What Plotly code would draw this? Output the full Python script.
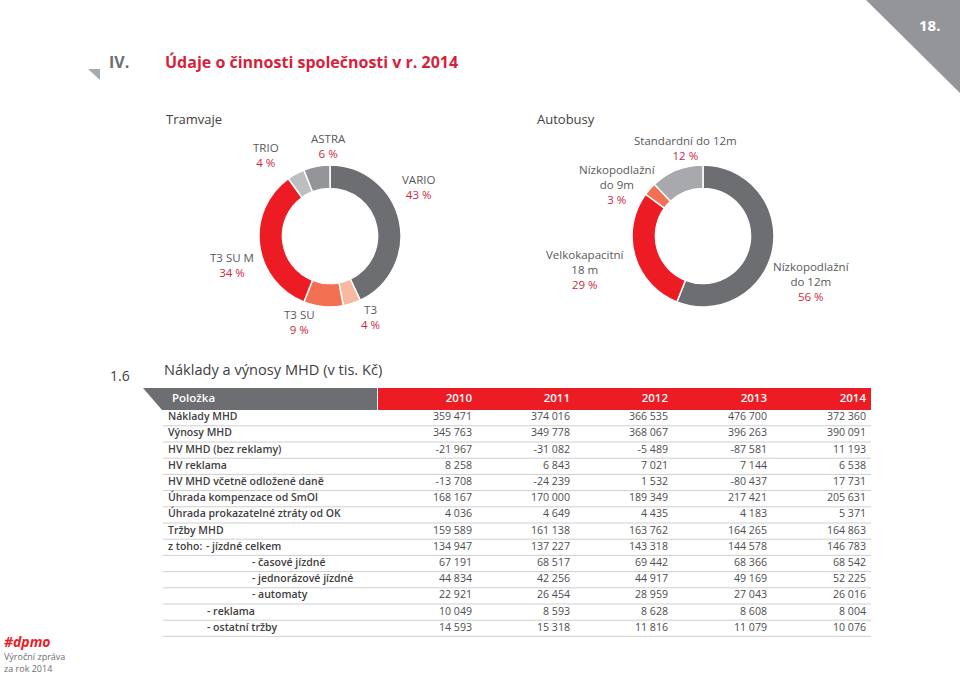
import plotly.graph_objects as go

# ---------------- DATA ----------------
tram_labels = ["VARIO", "T3", "T3 SU", "T3 SU M", "TRIO", "ASTRA"]
tram_values = [43, 4, 9, 34, 4, 6]
tram_colors = ["#6d6e71", "#f9b8a0", "#f37053", "#ed1c24", "#bcbec0", "#939598"]

bus_labels = ["Nízkopodlažní<br>do 12m", "Velkokapacitní<br>18 m", "Nízkopodlažní<br>do 9m", "Standardní do 12m"]
bus_values = [56, 29, 3, 12]
bus_colors = ["#6d6e71", "#ed1c24", "#f37053", "#a7a9ac"]

years = ["2010", "2011", "2012", "2013", "2014"]
row_labels = ["Náklady MHD", "Výnosy MHD", "HV MHD (bez reklamy)", "HV reklama",
              "HV MHD včetně odložené daně", "Úhrada kompenzace od SmOl",
              "Úhrada prokazatelné ztráty od OK", "Tržby MHD", "z toho:",
              "- časové jízdné", "- jednorázové jízdné", "- automaty",
              "- reklama", "- ostatní tržby"]
row_level = [0, 0, 0, 0, 0, 0, 0, 0, 0, 2, 2, 2, 1, 1]
extra_label = "- jízdné celkem"   # second label on the "z toho:" row
values = {
    "2010": [359471, 345763, -21967, 8258, -13708, 168167, 4036, 159589, 134947, 67191, 44834, 22921, 10049, 14593],
    "2011": [374016, 349778, -31082, 6843, -24239, 170000, 4649, 161138, 137227, 68517, 42256, 26454, 8593, 15318],
    "2012": [366535, 368067, -5489, 7021, 1532, 189349, 4435, 163762, 143318, 69442, 44917, 28959, 8628, 11816],
    "2013": [476700, 396263, -87581, 7144, -80437, 217421, 4183, 164265, 144578, 68366, 49169, 27043, 8608, 11079],
    "2014": [372360, 390091, 11193, 6538, 17731, 205631, 5371, 164863, 146783, 68542, 52225, 26016, 8004, 10076],
}

# ---------------- LAYOUT HELPERS ----------------
W, H = 960, 691
FONT = "Open Sans"
DARK = "#414042"
LABEL_GREY = "#58595b"
PCT_RED = "#d0283e"
TITLE_RED = "#d71f3c"


def fmt(v):
    return f"{v:,}".replace(",", " ")


def pdom(x0, x1, y0, y1):
    return dict(x=[x0 / W, x1 / W], y=[1 - y1 / H, 1 - y0 / H])


fig = go.Figure()

# donuts
fig.add_trace(go.Pie(labels=tram_labels, values=tram_values, sort=False, direction="clockwise",
                     rotation=0, hole=0.67, marker=dict(colors=tram_colors, line=dict(color="white", width=1.5)),
                     textinfo="none", hoverinfo="skip", showlegend=False,
                     domain=pdom(259, 401, 165, 307)))
fig.add_trace(go.Pie(labels=bus_labels, values=bus_values, sort=False, direction="clockwise",
                     rotation=0, hole=0.67, marker=dict(colors=bus_colors, line=dict(color="white", width=1.5)),
                     textinfo="none", hoverinfo="skip", showlegend=False,
                     domain=pdom(632, 774, 165, 307)))

annotations = []


def ann(x, y, text, size, color, xanchor="left", weight=None, align=None):
    f = dict(family=FONT, size=size, color=color)
    if weight:
        f["weight"] = weight
    a = dict(x=x, y=y, xref="x", yref="y", text=text, showarrow=False,
             xanchor=xanchor, yanchor="middle", font=f)
    if align:
        a["align"] = align
    annotations.append(a)


def slice_label(x, y_first, lab, val, nlines):
    txt = f"{lab}<br><span style='color:{PCT_RED}'>{val} %</span>"
    step = 12.7
    ymid = y_first + step * nlines / 2
    ann(x, ymid, txt, 11.5, LABEL_GREY, "center")


# donut labels (positions per slice)
tram_pos = {"VARIO": (418, 181), "T3": (370, 311), "T3 SU": (299, 316),
            "T3 SU M": (232, 259), "TRIO": (266, 149), "ASTRA": (328, 140)}
for lab, val in zip(tram_labels, tram_values):
    x, y = tram_pos[lab]
    slice_label(x, y, lab, val, 1)

bus_pos = {bus_labels[0]: (811, 269), bus_labels[1]: (585, 257),
           bus_labels[2]: (617, 172), bus_labels[3]: (685, 142)}
for lab, val in zip(bus_labels, bus_values):
    x, y = bus_pos[lab]
    slice_label(x, y, lab, val, lab.count("<br>") + 1)

# headings
ann(107, 62, "<b>IV.</b>", 16, "#6d6e71")
ann(163, 62, "<b>Údaje o činnosti společnosti v r. 2014</b>", 16, TITLE_RED)
ann(942, 25, "<b>18.</b>", 15, "white", "right")
ann(164, 119, "Tramvaje", 13, DARK)
ann(535, 119, "Autobusy", 13, DARK)
ann(108, 375, "1.6", 14, DARK)
ann(162, 369, "Náklady a výnosy MHD (v tis. Kč)", 14.6, DARK)

# footer
ann(2, 641, "<b><i>#dpmo</i></b>", 14, "#ed1c24")
ann(2, 662.5, "Výroční zpráva<br>za rok 2014", 9, "#6d6e71", align="left")

# table geometry
col_right = [472, 570, 668, 767, 866]
row_y0, row_dy = 417.5, 16.2
level_x = {0: 168, 1: 207, 2: 252}
hdr_top, hdr_bot = 388, 410

shapes = []
# corner triangle
shapes.append(dict(type="path", path="M 866 0 L 960 0 L 960 93 Z", xref="x", yref="y",
                   fillcolor="#939598", line=dict(width=0), layer="below"))
# small triangle near IV.
shapes.append(dict(type="path", path="M 88 69 L 100 69 L 100 80 Z", xref="x", yref="y",
                   fillcolor="#a7a9ac", line=dict(width=0), layer="below"))
# table header
shapes.append(dict(type="path", path=f"M 143 {hdr_top} L 377 {hdr_top} L 377 {hdr_bot} L 162 {hdr_bot} Z",
                   xref="x", yref="y", fillcolor="#6d6e71", line=dict(width=0), layer="below"))
shapes.append(dict(type="rect", x0=378, x1=871, y0=hdr_top, y1=hdr_bot, xref="x", yref="y",
                   fillcolor="#ed1c24", line=dict(width=0), layer="below"))
# row separators
for i in range(len(row_labels)):
    yy = row_y0 + row_dy * i + 8.3
    shapes.append(dict(type="line", x0=163, x1=871, y0=yy, y1=yy, xref="x", yref="y",
                       line=dict(color="#cfcfd0", width=1), layer="below"))

# header texts
hdr_y = (hdr_top + hdr_bot) / 2
fig.add_trace(go.Scatter(x=[172], y=[hdr_y], mode="text", text=["Položka"], textposition="middle right",
                         textfont=dict(family=FONT, size=11.5, color="white", weight=600),
                         hoverinfo="skip", showlegend=False))
fig.add_trace(go.Scatter(x=col_right, y=[hdr_y] * len(years), mode="text", text=years,
                         textposition="middle left",
                         textfont=dict(family=FONT, size=11.5, color="white", weight=600),
                         hoverinfo="skip", showlegend=False))

# row labels
ys = [row_y0 + row_dy * i for i in range(len(row_labels))]
fig.add_trace(go.Scatter(x=[level_x[l] for l in row_level] + [level_x[1] - 1],
                         y=ys + [ys[row_labels.index("z toho:")]], mode="text",
                         text=row_labels + [extra_label], textposition="middle right",
                         textfont=dict(family=FONT, size=10.5, color=DARK, weight=600),
                         hoverinfo="skip", showlegend=False))
# values
for yr, xr in zip(years, col_right):
    fig.add_trace(go.Scatter(x=[xr] * len(values[yr]), y=ys, mode="text",
                             text=[fmt(v) for v in values[yr]], textposition="middle left",
                             textfont=dict(family=FONT, size=10.6, color="#4d4d4f"),
                             hoverinfo="skip", showlegend=False))

fig.update_layout(
    width=W, height=H, margin=dict(l=0, r=0, t=0, b=0),
    paper_bgcolor="white", plot_bgcolor="white",
    xaxis=dict(range=[0, W], visible=False, fixedrange=True, domain=[0, 1]),
    yaxis=dict(range=[H, 0], visible=False, fixedrange=True, domain=[0, 1]),
    shapes=shapes, annotations=annotations, showlegend=False,
)
fig.write_html("out.html", config={"displayModeBar": False},
               post_script="document.body.style.margin='0';document.body.style.overflow='hidden';")
